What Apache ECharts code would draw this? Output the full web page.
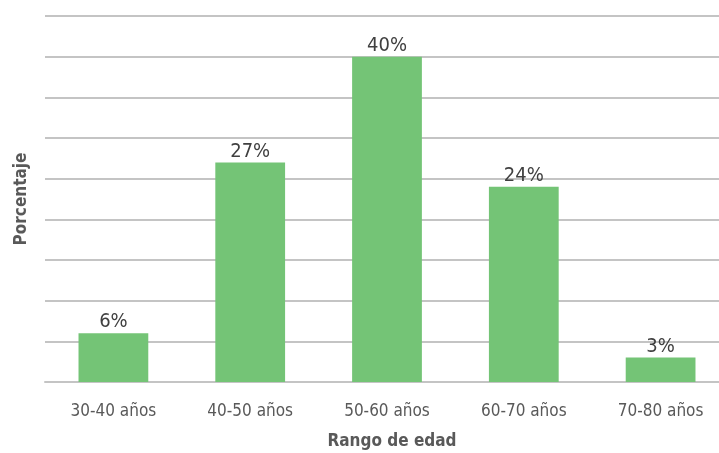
<!DOCTYPE html>
<html><head><meta charset="utf-8">
<script src="https://cdn.jsdelivr.net/npm/echarts@6/dist/echarts.min.js"></script>
<style>html,body{margin:0;padding:0;background:#fff}#c{width:719px;height:453px}</style>
</head><body><div id="c"></div>
<script>
const categories = ['30-40 años','40-50 años','50-60 años','60-70 años','70-80 años'];
const values = [6, 27, 40, 24, 3];
const xName = 'Rango de edad';
const yName = 'Porcentaje';
const font = '"DejaVu Sans Condensed", "Liberation Sans Narrow", "Liberation Sans", sans-serif';
const chart = echarts.init(document.getElementById('c'));
chart.setOption({
  animation: false,
  grid: {left: 45, top: 16, bottom: 71, width: 684, containLabel: false, outerBoundsMode: 'none'},
  xAxis: {
    type: 'category', data: categories,
    name: xName, nameLocation: 'middle', nameGap: 51,
    nameTextStyle: {fontFamily: font, fontWeight: 'bold', fontSize: 17, color: '#595959', padding: [0, 0, 0, 10]},
    axisLine: {show: true, lineStyle: {color: '#c4c4c4', width: 2}},
    axisTick: {show: false},
    axisLabel: {fontFamily: font, fontSize: 17, color: '#595959', margin: 21}
  },
  yAxis: {
    type: 'value', min: 0, max: 45, interval: 5,
    name: yName, nameLocation: 'middle', nameGap: 15, nameRotate: 90,
    nameTextStyle: {fontFamily: font, fontWeight: 'bold', fontSize: 17, color: '#595959'},
    axisLabel: {show: false}, axisLine: {show: false}, axisTick: {show: false},
    splitLine: {lineStyle: {color: '#c4c4c4', width: 2}}
  },
  series: [{
    type: 'bar', data: values, barWidth: '51%',
    itemStyle: {color: '#74c476'},
    label: {show: true, position: 'top', distance: 1, formatter: '{c}%', fontFamily: font, fontSize: 20, color: '#404040'}
  }]
});
</script></body></html>
